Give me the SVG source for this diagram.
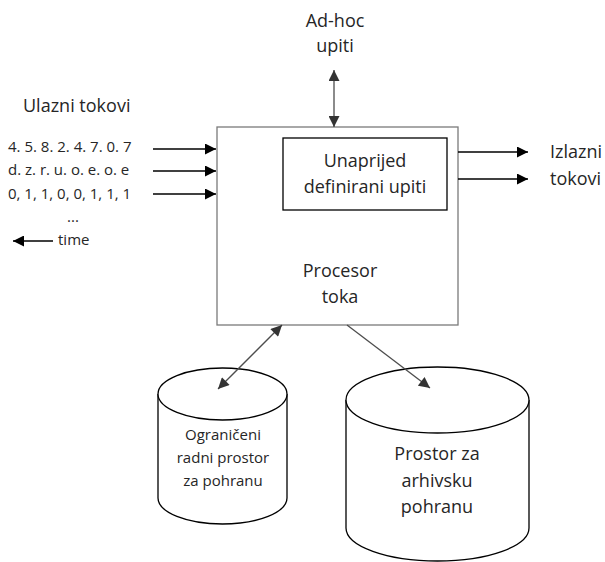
<svg xmlns="http://www.w3.org/2000/svg" width="605" height="562" viewBox="0 0 605 562">
<defs>
<style>
text{font-family:"Open Sans","Liberation Sans",sans-serif;fill:#262626;}
.big{font-size:18px;}
.sm{font-size:15px;}
.mid{text-anchor:middle;}
.ln{stroke:#000;stroke-width:1.3;fill:none;}
.gl{stroke:#4d4d4d;stroke-width:1.3;fill:none;}
.shape{fill:#fff;stroke:#000;stroke-width:1.3;}
</style>
<marker id="ah" viewBox="0 0 10 10" refX="10" refY="5" markerWidth="12" markerHeight="11" markerUnits="userSpaceOnUse" orient="auto-start-reverse">
<path d="M0,0 L10,5 L0,10 Z" fill="#000"/>
</marker>
<marker id="ahg" viewBox="0 0 10 10" refX="10" refY="5" markerWidth="12" markerHeight="11" markerUnits="userSpaceOnUse" orient="auto-start-reverse">
<path d="M0,0 L10,5 L0,10 Z" fill="#333"/>
</marker>
</defs>
<rect width="605" height="562" fill="#fff"/>

<g id="processor">
<rect x="217" y="127" width="241" height="198" fill="#fff" stroke="#7a7a7a" stroke-width="1.3"/>
<text class="big mid" x="340" y="277">Procesor</text>
<text class="big mid" x="340" y="303">toka</text>
</g>

<g id="predefined">
<rect x="283" y="138" width="164" height="72" class="shape"/>
<text class="big mid" x="365" y="167">Unaprijed</text>
<text class="big mid" x="365" y="193">definirani upiti</text>
</g>

<g id="adhoc">
<text class="big mid" x="335" y="27">Ad-hoc</text>
<text class="big mid" x="335" y="52">upiti</text>
</g>

<g id="inputs">
<text class="big" x="23" y="112">Ulazni tokovi</text>
<text class="sm" x="8" y="152">4. 5. 8. 2. 4. 7. 0. 7</text>
<text class="sm" x="8" y="175">d. z. r. u. o. e. o. e</text>
<text class="sm" x="8" y="199">0, 1, 1, 0, 0, 1, 1, 1</text>
<text class="sm mid" x="73" y="222">...</text>
<text class="sm" x="58" y="245">time</text>
</g>

<g id="outputs">
<text class="big" x="550" y="158">Izlazni</text>
<text class="big" x="550" y="185">tokovi</text>
</g>

<g id="working-storage">
<path d="M158,394 L158,498 A64.5,26 0 0 0 287,498 L287,394" class="shape"/>
<ellipse cx="222.5" cy="394" rx="64.5" ry="26" class="shape"/>
<text class="sm mid" x="223" y="440">Ograničeni</text>
<text class="sm mid" x="223" y="463">radni prostor</text>
<text class="sm mid" x="223" y="486">za pohranu</text>
</g>

<g id="archive">
<path d="M346,400 L346,528 A91.5,33 0 0 0 529,528 L529,400" class="shape"/>
<ellipse cx="437.5" cy="400" rx="91.5" ry="33" class="shape"/>
<text class="big mid" x="437" y="460">Prostor za</text>
<text class="big mid" x="437" y="487">arhivsku</text>
<text class="big mid" x="437" y="513">pohranu</text>
</g>

<g id="connectors">
<line x1="153" y1="149" x2="216" y2="149" class="ln" marker-end="url(#ah)"/>
<line x1="153" y1="171" x2="216" y2="171" class="ln" marker-end="url(#ah)"/>
<line x1="153" y1="194" x2="216" y2="194" class="ln" marker-end="url(#ah)"/>
<line x1="53" y1="241" x2="13" y2="241" class="ln" marker-end="url(#ah)"/>
<line x1="458" y1="152" x2="528" y2="152" class="ln" marker-end="url(#ah)"/>
<line x1="458" y1="179" x2="528" y2="179" class="ln" marker-end="url(#ah)"/>
<line x1="334" y1="70" x2="334" y2="127" class="gl" marker-start="url(#ahg)" marker-end="url(#ahg)"/>
<line x1="282" y1="325" x2="218" y2="389" class="gl" marker-start="url(#ahg)" marker-end="url(#ahg)"/>
<line x1="347" y1="325" x2="430" y2="388" class="gl" marker-end="url(#ahg)"/>
</g>
</svg>
